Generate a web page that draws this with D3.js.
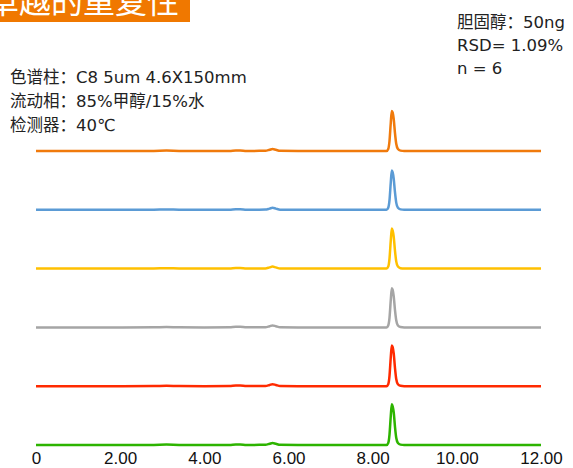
<!DOCTYPE html>
<html><head><meta charset="utf-8">
<script src="https://cdn.jsdelivr.net/npm/d3@7"></script>
<style>
html,body{margin:0;padding:0;background:#fff;}
svg{display:block;}
</style></head>
<body>
<svg id="chart" width="573" height="468"></svg>
<script>
// ---- data ----
const title = "卓越的重复性";
const methodLines = ["色谱柱：C8 5um 4.6X150mm", "流动相：85%甲醇/15%水", "检测器：40℃"];
const resultLines = ["胆固醇：50ng", "RSD= 1.09%", "n = 6"];
const xTicks = [0, 2, 4, 6, 8, 10, 12];
const xTickLabels = ["0", "2.00", "4.00", "6.00", "8.00", "10.00", "12.00"];
const seriesNames = ["inj1", "inj2", "inj3", "inj4", "inj5", "inj6"];
const seriesColors = ["#F07A0C", "#5B9BD5", "#FFC000", "#A5A5A5", "#FF2A00", "#2DB400"];
const times = [0, 1.0, 2.0, 2.8, 3.1, 3.4, 4.0, 4.6, 4.75, 4.85, 5.0, 5.45, 5.55, 5.62, 5.7, 5.8, 6.5, 8.0, 8.33, 8.37, 8.40, 8.43, 8.455, 8.475, 8.50, 8.53, 8.56, 8.60, 8.66, 8.75, 9.0, 10.5, 12];
const inj1 = [0, 0, 0, 0.3, 1.0, 0.3, 0, 0.3, 1.5, 1.5, 0.2, 0.5, 3, 5, 3, 0.4, 0, 0, 0, 5, 25, 70, 100, 96, 80, 45, 18, 5, 1, 0, 0, 0, 0];
const inj2 = [0, 0, 0, 0.3, 1.0, 0.3, 0, 0.3, 1.5, 1.5, 0.2, 0.5, 3, 5, 3, 0.4, 0, 0, 0, 5, 24, 68, 98, 94, 78, 44, 18, 5, 1, 0, 0, 0, 0];
const inj3 = [0, 0, 0, 0.3, 1.0, 0.3, 0, 0.3, 1.5, 1.5, 0.2, 0.5, 3, 5, 3, 0.4, 0, 0, 0, 5, 25, 70, 100, 95, 80, 45, 18, 5, 1, 0, 0, 0, 0];
const inj4 = [0, 0, 0, 0.3, 1.0, 0.3, 0, 0.3, 1.5, 1.5, 0.2, 0.5, 3, 5, 3, 0.4, 0, 0, 0, 5, 24, 68, 98, 94, 78, 44, 18, 5, 1, 0, 0, 0, 0];
const inj5 = [0, 0, 0, 0.3, 1.0, 0.3, 0, 0.3, 1.5, 1.5, 0.2, 0.5, 3, 5, 3, 0.4, 0, 0, 0, 5, 26, 72, 102, 98, 82, 46, 18, 5, 1, 0, 0, 0, 0];
const inj6 = [0, 0, 0, 0.3, 1.0, 0.3, 0, 0.3, 1.5, 1.5, 0.2, 0.5, 3, 5, 3, 0.4, 0, 0, 0, 5, 26, 72, 102, 97, 82, 46, 18, 5, 1, 0, 0, 0, 0];
const seriesValues = [inj1, inj2, inj3, inj4, inj5, inj6];

// ---- drawing ----
const svg = d3.select("#chart");
const cjk = "'Noto Sans CJK SC', 'Noto Sans', sans-serif";
const mixed = "'DejaVu Sans', 'Noto Sans CJK SC', sans-serif";

// title banner
svg.append("rect").attr("x", 0).attr("y", 0).attr("width", 190).attr("height", 22).attr("fill", "#F07800");
svg.append("text").attr("x", -13).attr("y", 13).attr("font-family", cjk)
  .attr("font-size", 32).attr("fill", "#fff").text(title);

// annotations
svg.append("g").selectAll("text").data(methodLines).join("text")
  .attr("x", 10).attr("y", (d, i) => 83 + i * 24)
  .attr("font-family", mixed).attr("font-size", 16.5).attr("fill", "#222").text(d => d);
svg.append("g").selectAll("text").data(resultLines).join("text")
  .attr("x", 457).attr("y", (d, i) => 28 + i * 23)
  .attr("font-family", mixed).attr("font-size", 16.5).attr("fill", "#222").text(d => d);

// scales
const x = d3.scaleLinear().domain([0, 12]).range([36, 541]);
const baseline = d3.scalePoint().domain(seriesNames).range([151, 445]);
const yh = d3.scaleLinear().domain([0, 100]).range([0, 40]);

const line = d3.line().curve(d3.curveMonotoneX);
seriesNames.forEach((name, si) => {
  const b = baseline(name);
  const pts = times.map((t, i) => [x(t), b - yh(seriesValues[si][i])]);
  svg.append("path").attr("d", line(pts)).attr("fill", "none")
    .attr("stroke", seriesColors[si]).attr("stroke-width", 2.5)
    .attr("stroke-linejoin", "round");
});

// x axis labels (no axis line)
const axis = d3.axisBottom(x).tickValues(xTicks).tickFormat((d, i) => xTickLabels[i]).tickSize(0).tickPadding(0);
const ag = svg.append("g").attr("transform", "translate(0,452)").call(axis);
ag.select(".domain").remove();
ag.selectAll("text").attr("font-family", "'Liberation Sans', Arial, sans-serif")
  .attr("font-size", 17).attr("fill", "#111").attr("dy", "0.71em");
</script>
</body></html>
